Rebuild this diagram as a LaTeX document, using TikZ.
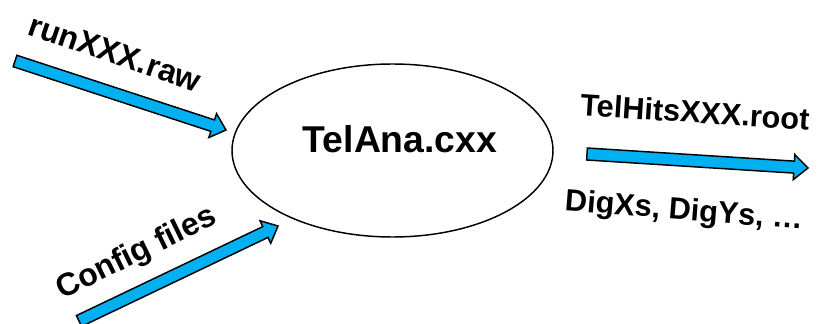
\documentclass[tikz,border=0pt]{standalone}
\usepackage{fontspec}
\setmainfont{Liberation Sans}
\usetikzlibrary{calc}
\definecolor{arrowblue}{RGB}{0,176,240}
\tikzset{
  lbl/.style={font=\bfseries\fontsize{23}{27}\selectfont, inner sep=0pt},
  biglbl/.style={font=\bfseries\fontsize{24}{28}\selectfont, inner sep=0pt},
  mainlbl/.style={font=\bfseries\fontsize{28}{33}\selectfont, inner sep=0pt},
  proc/.style={draw=black, line width=1.1pt, fill=white},
  barrow/.style={draw=black, line width=1.1pt, fill=arrowblue, line join=miter},
}
% block arrow from coordinate #1 to coordinate #2
\newcommand{\blockarrowdraw}[2]{%
  \draw[barrow]
    ($(#1)!4.5pt!90:(#2)$) --
    ($($(#2)!10.5pt!(#1)$)!4.5pt!-90:(#1)$) --
    ($($(#2)!10.5pt!(#1)$)!9.4pt!-90:(#1)$) --
    (#2) --
    ($($(#2)!10.5pt!(#1)$)!9.4pt!90:(#1)$) --
    ($($(#2)!10.5pt!(#1)$)!4.5pt!90:(#1)$) --
    ($(#1)!4.5pt!-90:(#2)$) -- cycle;}
\begin{document}
\begin{tikzpicture}[x=0.75pt,y=-0.75pt]
\useasboundingbox (0,0) rectangle (821,324);
\fill[white] (0,0) rectangle (821,324);
\draw[proc] (392.5,150.5) ellipse [x radius=160.5*0.75pt, y radius=86.5*0.75pt];
\node[mainlbl] (ana) at (400,139) {TelAna.cxx};
% coordinates for arrows
\coordinate (rawtail) at (15,61);
\coordinate (rawtip) at (226,130);
\coordinate (cfgtail) at (79,321);
\coordinate (cfgtip) at (278,226);
\coordinate (outtail) at (587,154);
\coordinate (outtip) at (808,168);
\blockarrowdraw{rawtail}{rawtip}
\blockarrowdraw{cfgtail}{cfgtip}
\blockarrowdraw{outtail}{outtip}
\node[biglbl, rotate=-19] (raw) at (115,53) {runXXX.raw};
\node[biglbl, rotate=26] (cfg) at (137,254) {Config files};
\node[lbl, rotate=-3.7] (hits) at (695,112) {TelHitsXXX.root};
\node[lbl, rotate=-4.5] (dig) at (684,212) {DigXs, DigYs, …};
\end{tikzpicture}
\end{document}
